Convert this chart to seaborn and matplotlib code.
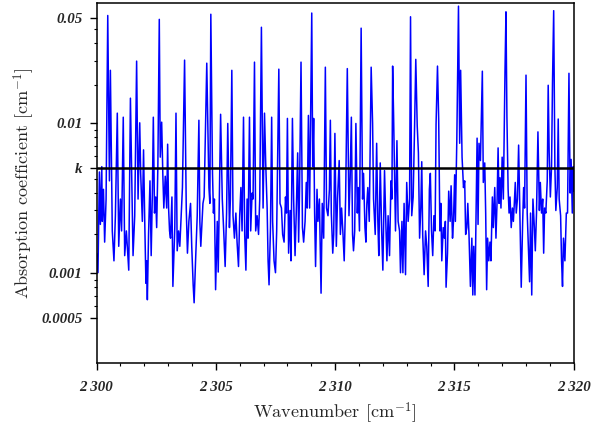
import numpy as np
import pandas as pd
import matplotlib
matplotlib.use("Agg")
import matplotlib.pyplot as plt
import matplotlib.ticker as mticker
import seaborn as sns

# spectrum: peaks and troughs, wavenumber in cm-1
wavenumber = [
    # 2300 - 2305
    2300.00, 2300.06, 2300.12, 2300.16, 2300.22, 2300.24, 2300.29, 2300.34, 2300.40, 2300.47,
    2300.54, 2300.58, 2300.66, 2300.73, 2300.79, 2300.87, 2300.93, 2301.00, 2301.05, 2301.12,
    2301.18, 2301.25, 2301.35, 2301.42, 2301.53, 2301.60, 2301.68, 2301.74, 2301.81, 2301.85,
    2301.92, 2301.97, 2302.02, 2302.07, 2302.10, 2302.13, 2302.18, 2302.24, 2302.29, 2302.34,
    2302.38, 2302.43, 2302.48, 2302.52, 2302.57, 2302.63, 2302.67, 2302.73, 2302.78, 2302.82,
    2302.88, 2302.94, 2302.98, 2303.02, 2303.06, 2303.10, 2303.16, 2303.20, 2303.24, 2303.28,
    2303.33, 2303.38, 2303.44, 2303.49, 2303.55, 2303.60, 2303.69, 2303.76, 2303.81, 2303.87,
    2303.94, 2303.99, 2304.05, 2304.09, 2304.15, 2304.22, 2304.29, 2304.33, 2304.37, 2304.46,
    2304.51, 2304.62, 2304.71, 2304.75, 2304.79, 2304.86, 2304.90, 2304.94,
    # 2305 - 2310
    2304.99, 2305.06, 2305.10, 2305.20, 2305.27, 2305.33, 2305.39, 2305.45, 2305.50, 2305.57,
    2305.61, 2305.67, 2305.72, 2305.78, 2305.84, 2305.89, 2305.95, 2306.00, 2306.05, 2306.10,
    2306.16, 2306.21, 2306.26, 2306.31, 2306.35, 2306.41, 2306.46, 2306.52, 2306.56, 2306.62,
    2306.67, 2306.73, 2306.79, 2306.84, 2306.91, 2306.98, 2307.04, 2307.09, 2307.15, 2307.19,
    2307.23, 2307.29, 2307.34, 2307.38, 2307.44, 2307.50, 2307.55, 2307.64, 2307.69, 2307.75,
    2307.80, 2307.86, 2307.92, 2307.96, 2308.00, 2308.05, 2308.11, 2308.15, 2308.21, 2308.26,
    2308.32, 2308.37, 2308.43, 2308.47, 2308.51, 2308.57, 2308.63, 2308.68, 2308.74, 2308.79,
    2308.83, 2308.88, 2308.93, 2309.02, 2309.06, 2309.10, 2309.14, 2309.18, 2309.24, 2309.28,
    2309.34, 2309.41, 2309.46, 2309.52, 2309.59, 2309.64, 2309.70, 2309.76, 2309.80, 2309.84,
    2309.90, 2309.94, 2309.99,
    # 2310 - 2315
    2310.05, 2310.10, 2310.17, 2310.22, 2310.27, 2310.33, 2310.38, 2310.44, 2310.51, 2310.58,
    2310.63, 2310.68, 2310.73, 2310.77, 2310.82, 2310.87, 2310.93, 2310.97, 2311.02, 2311.09,
    2311.15, 2311.19, 2311.25, 2311.29, 2311.33, 2311.37, 2311.43, 2311.51, 2311.57, 2311.61,
    2311.68, 2311.74, 2311.79, 2311.83, 2311.89, 2311.95, 2312.00, 2312.07, 2312.13, 2312.17,
    2312.22, 2312.28, 2312.34, 2312.38, 2312.41, 2312.45, 2312.49, 2312.53, 2312.59, 2312.64,
    2312.70, 2312.74, 2312.80, 2312.84, 2312.89, 2312.95, 2313.00, 2313.06, 2313.12, 2313.16,
    2313.21, 2313.27, 2313.33, 2313.38, 2313.44, 2313.49, 2313.54, 2313.59, 2313.63, 2313.67,
    2313.73, 2313.79, 2313.84, 2313.90, 2313.95, 2313.99, 2314.04, 2314.09, 2314.14, 2314.19,
    2314.23, 2314.29, 2314.34, 2314.39, 2314.43, 2314.47, 2314.53, 2314.58, 2314.62, 2314.65,
    2314.71, 2314.76, 2314.82, 2314.86, 2314.92, 2314.96, 2315.01,
    # 2315 - 2320
    2315.04, 2315.10, 2315.17, 2315.22, 2315.26, 2315.32, 2315.38, 2315.43, 2315.47, 2315.52,
    2315.56, 2315.61, 2315.67, 2315.73, 2315.77, 2315.81, 2315.86, 2315.91, 2315.95, 2315.99,
    2316.03, 2316.09, 2316.17, 2316.21, 2316.27, 2316.31, 2316.35, 2316.39, 2316.44, 2316.49,
    2316.53, 2316.59, 2316.63, 2316.69, 2316.74, 2316.79, 2316.83, 2316.87, 2316.91, 2316.95,
    2317.00, 2317.05, 2317.12, 2317.16, 2317.20, 2317.25, 2317.29, 2317.33, 2317.38, 2317.43,
    2317.47, 2317.51, 2317.55, 2317.59, 2317.64, 2317.69, 2317.75, 2317.80, 2317.86, 2317.90,
    2317.94, 2318.00, 2318.05, 2318.11, 2318.15, 2318.19, 2318.24, 2318.29, 2318.35, 2318.39,
    2318.44, 2318.50, 2318.56, 2318.60, 2318.65, 2318.70, 2318.74, 2318.78, 2318.83, 2318.89,
    2318.93, 2318.97, 2319.02, 2319.07, 2319.11, 2319.16, 2319.21, 2319.25, 2319.31, 2319.35,
    2319.39, 2319.45, 2319.49, 2319.53, 2319.57, 2319.63, 2319.69, 2319.74, 2319.80, 2319.85,
    2319.89, 2319.94, 2319.98, 2320.00,
]

absorption = [
    # 2300 - 2305
    0.00135, 0.0010, 0.0047, 0.0021, 0.0051, 0.0022, 0.0036, 0.0016, 0.0031, 0.052,
    0.0041, 0.0224, 0.0019, 0.0012, 0.0024, 0.0116, 0.0015, 0.0031, 0.0019, 0.0109,
    0.0013, 0.0019, 0.00104, 0.0146, 0.0013, 0.0024, 0.0258, 0.0031, 0.0100, 0.0046,
    0.0022, 0.0066, 0.0022, 0.00085, 0.0012, 0.00066, 0.0018, 0.0041, 0.0013, 0.0034,
    0.0109, 0.0025, 0.0032, 0.0020, 0.0051, 0.049, 0.0059, 0.0101, 0.0044, 0.0027,
    0.0044, 0.0027, 0.0072, 0.0027, 0.0019, 0.0017, 0.0032, 0.00081, 0.0013, 0.0020,
    0.0116, 0.0014, 0.0019, 0.0015, 0.0025, 0.0037, 0.0262, 0.0027, 0.00135, 0.0022,
    0.0029, 0.0015, 0.00083, 0.00063, 0.0012, 0.0024, 0.0104, 0.0022, 0.0015, 0.0029,
    0.0032, 0.0250, 0.0037, 0.0029, 0.053, 0.0046, 0.0025, 0.0031,
    # 2305 - 2310
    0.00077, 0.0022, 0.00101, 0.0114, 0.0031, 0.0019, 0.0011, 0.0025, 0.0099, 0.0020,
    0.0031, 0.0224, 0.0024, 0.0017, 0.0025, 0.0016, 0.0011, 0.0024, 0.0037, 0.0019,
    0.0109, 0.0018, 0.00104, 0.0031, 0.0017, 0.0109, 0.0019, 0.0034, 0.0031, 0.0254,
    0.0019, 0.0024, 0.0018, 0.0031, 0.0434, 0.0027, 0.0116, 0.0054, 0.0027, 0.0012,
    0.00083, 0.0020, 0.0109, 0.0022, 0.0012, 0.0010, 0.0019, 0.0228, 0.0029, 0.0027,
    0.0018, 0.0016, 0.0032, 0.0025, 0.0107, 0.00135, 0.0026, 0.0012, 0.0107, 0.0031,
    0.0013, 0.0025, 0.0063, 0.0016, 0.0037, 0.0254, 0.0020, 0.0016, 0.0022, 0.0040,
    0.0027, 0.0112, 0.0027, 0.054, 0.0051, 0.0107, 0.0025, 0.0011, 0.0036, 0.0022,
    0.0031, 0.00073, 0.0029, 0.0017, 0.0235, 0.0027, 0.0024, 0.0036, 0.0104, 0.0025,
    0.00135, 0.0018, 0.0085,
    # 2310 - 2315
    0.0015, 0.0031, 0.0056, 0.0018, 0.0027, 0.0018, 0.0012, 0.0032, 0.0230, 0.0024,
    0.0043, 0.0109, 0.0018, 0.0014, 0.0019, 0.0099, 0.0025, 0.0037, 0.0019, 0.0428,
    0.0031, 0.0046, 0.0020, 0.0016, 0.0029, 0.0037, 0.0022, 0.0235, 0.0099, 0.0031,
    0.0018, 0.0073, 0.0022, 0.0013, 0.0054, 0.0019, 0.00104, 0.0048, 0.0020, 0.0012,
    0.0024, 0.0013, 0.0041, 0.0031, 0.0239, 0.0112, 0.0046, 0.0019, 0.0076, 0.0022,
    0.0019, 0.0010, 0.0022, 0.0010, 0.0029, 0.00097, 0.0040, 0.0022, 0.0031, 0.051,
    0.0024, 0.0032, 0.0094, 0.0265, 0.0096, 0.0063, 0.0017, 0.0027, 0.0055, 0.0018,
    0.00097, 0.0019, 0.0015, 0.00081, 0.0036, 0.0046, 0.0019, 0.0013, 0.0024, 0.0019,
    0.0098, 0.0239, 0.0106, 0.0019, 0.0029, 0.0012, 0.0020, 0.0017, 0.0022, 0.00080,
    0.00135, 0.0035, 0.0022, 0.0038, 0.0017, 0.0022, 0.0045,
    # 2315 - 2320
    0.0022, 0.0077, 0.060, 0.0073, 0.0224, 0.0059, 0.0037, 0.0041, 0.0018, 0.0020,
    0.0029, 0.0018, 0.00081, 0.0017, 0.00071, 0.0015, 0.00071, 0.0029, 0.0079, 0.0021,
    0.0073, 0.0056, 0.0221, 0.0040, 0.0054, 0.0025, 0.00077, 0.0017, 0.0012, 0.0016,
    0.0012, 0.0032, 0.0020, 0.0037, 0.0017, 0.0031, 0.0068, 0.0029, 0.0043, 0.0027,
    0.0059, 0.0031, 0.0224, 0.055, 0.0109, 0.0036, 0.0025, 0.0032, 0.0020, 0.0027,
    0.0022, 0.0029, 0.0040, 0.0025, 0.0031, 0.0071, 0.0022, 0.00080, 0.0022, 0.0037,
    0.0027, 0.0208, 0.0025, 0.00135, 0.00087, 0.0025, 0.00071, 0.0031, 0.0020, 0.0014,
    0.0025, 0.0087, 0.0026, 0.0040, 0.0025, 0.0031, 0.00135, 0.0027, 0.0025, 0.0041,
    0.0178, 0.0064, 0.0032, 0.0051, 0.0184, 0.056, 0.0051, 0.0026, 0.0037, 0.0106,
    0.0031, 0.0024, 0.0012, 0.00081, 0.0017, 0.0012, 0.0025, 0.0025, 0.0214, 0.0034,
    0.0057, 0.0025, 0.0051, 0.0035,
]

k_level = 0.005
x_major = [2300, 2305, 2310, 2315, 2320]
x_labels = ["2 300", "2 305", "2 310", "2 315", "2 320"]
y_major = [0.0005, 0.001, k_level, 0.01, 0.05]
y_labels = ["0.0005", "0.001", "k", "0.01", "0.05"]
y_minor = [0.0006, 0.0007, 0.0008, 0.0009,
           0.0018, 0.0026, 0.0034, 0.0042,
           0.006, 0.007, 0.008, 0.009,
           0.018, 0.026, 0.034, 0.042]

df = pd.DataFrame({"wavenumber": wavenumber, "absorption": absorption})

sns.set_style("ticks")
plt.rcParams["mathtext.fontset"] = "cm"

fig = plt.figure(figsize=(6.11, 4.28), dpi=100)
ax = fig.add_axes([0.158, 0.152, 0.781, 0.841])

sns.lineplot(data=df, x="wavenumber", y="absorption", ax=ax, color="#0000ff",
             linewidth=1.1, estimator=None, sort=False)
ax.axhline(k_level, color="black", linewidth=1.8, zorder=5)

ax.set_yscale("log")
ax.set_xlim(2300, 2320)
ax.set_ylim(0.00025, 0.063)

ax.set_xticks(x_major)
ax.set_xticklabels(x_labels)
ax.xaxis.set_minor_locator(mticker.MultipleLocator(1))
ax.set_yticks(y_major)
ax.set_yticklabels(y_labels)
ax.yaxis.set_minor_locator(mticker.FixedLocator(y_minor))
ax.yaxis.set_minor_formatter(mticker.NullFormatter())

for lab in ax.get_xticklabels() + ax.get_yticklabels():
    lab.set_family("Liberation Serif")
    lab.set_fontweight("bold")
    lab.set_fontstyle("italic")
    lab.set_fontsize(10.8)

ax.tick_params(axis="both", which="major", direction="out", length=5, width=1, color="black")
ax.tick_params(axis="both", which="minor", direction="out", length=2.5, width=0.8, color="black")
ax.tick_params(axis="x", which="major", pad=8)
ax.tick_params(axis="y", which="major", pad=5)

for side in ["top", "right", "bottom", "left"]:
    ax.spines[side].set_visible(True)
    ax.spines[side].set_color("black")
    ax.spines[side].set_linewidth(1.1)

ax.set_xlabel(r"Wavenumber [cm$^{-1}$]", family="cmr10", fontsize=13.1, labelpad=5)
ax.set_ylabel(r"Absorption coefficient [cm$^{-1}$]", family="cmr10", fontsize=13.1, labelpad=3)

fig.savefig("out.png", dpi=100)
